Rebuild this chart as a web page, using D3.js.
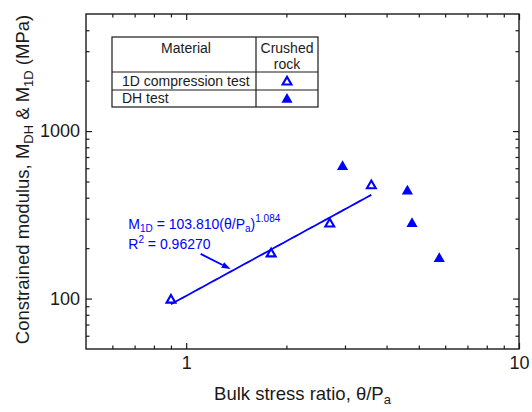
<!DOCTYPE html>
<html>
<head>
<meta charset="utf-8">
<script src="https://cdn.jsdelivr.net/npm/d3@7"></script>
<style>
  html, body { margin: 0; padding: 0; background: #fff; }
  svg { display: block; font-family: "Liberation Sans", Arial, sans-serif; }
</style>
</head>
<body>
<svg id="chart" width="532" height="412"></svg>
<script>
// Bulk stress ratio (θ/Pa) and constrained modulus (MPa)
const oedX = [0.9, 1.8, 2.7, 3.6];          // 1D compression test
const oedY = [98, 185, 279, 472];
const dhX = [2.95, 4.62, 4.77, 5.76];        // DH test
const dhY = [613, 437, 280, 173];

// power-law fit of the 1D compression data: M1D = a (θ/Pa)^b
const fitA = 103.810;
const fitB = 1.084;
const fitRange = [0.9, 3.6];
const fitR2 = "0.96270";

const xDomain = [0.5, 10];
const yDomain = [50, 5000];
const xMajor = [1, 10];
const xMinor = [0.6, 0.7, 0.8, 0.9, 2, 3, 4, 5, 6, 7, 8, 9];
const yMajor = [100, 1000];
const yMinor = [60, 70, 80, 90, 200, 300, 400, 500, 600, 700, 800, 900, 2000, 3000, 4000];

const legendRows = ["1D compression test", "DH test"];

const blue = "#0000ff";
const ink = "#1a1a1a";
const m = { left: 86, right: 519, top: 14, bottom: 349 };

const svg = d3.select("#chart");
const x = d3.scaleLog().domain(xDomain).range([m.left, m.right]);
const y = d3.scaleLog().domain(yDomain).range([m.bottom, m.top]);

const fmt = d => String(d);

function styleAxis(g) {
  g.select(".domain").remove();
  g.selectAll(".tick line").attr("stroke", ink).attr("stroke-width", 1.2);
  g.selectAll(".tick text").attr("fill", ink).style("font-size", "18px")
    .style("font-family", "\"Liberation Sans\", Arial, sans-serif");
}

// bottom axis
svg.append("g").attr("transform", `translate(0,${m.bottom})`)
  .call(d3.axisBottom(x).tickValues(xMajor).tickFormat(fmt).tickSize(-6).tickPadding(7))
  .call(styleAxis);
svg.append("g").attr("transform", `translate(0,${m.bottom})`)
  .call(d3.axisBottom(x).tickValues(xMinor).tickFormat("").tickSize(-3.5))
  .call(styleAxis);
// top axis (mirror)
svg.append("g").attr("transform", `translate(0,${m.top})`)
  .call(d3.axisTop(x).tickValues(xMajor).tickFormat("").tickSize(-6))
  .call(styleAxis);
svg.append("g").attr("transform", `translate(0,${m.top})`)
  .call(d3.axisTop(x).tickValues(xMinor).tickFormat("").tickSize(-3.5))
  .call(styleAxis);
// left axis
svg.append("g").attr("transform", `translate(${m.left},0)`)
  .call(d3.axisLeft(y).tickValues(yMajor).tickFormat(fmt).tickSize(-6).tickPadding(6))
  .call(styleAxis);
svg.append("g").attr("transform", `translate(${m.left},0)`)
  .call(d3.axisLeft(y).tickValues(yMinor).tickFormat("").tickSize(-3.5))
  .call(styleAxis);
// right axis (mirror)
svg.append("g").attr("transform", `translate(${m.right},0)`)
  .call(d3.axisRight(y).tickValues(yMajor).tickFormat("").tickSize(-6))
  .call(styleAxis);
svg.append("g").attr("transform", `translate(${m.right},0)`)
  .call(d3.axisRight(y).tickValues(yMinor).tickFormat("").tickSize(-3.5))
  .call(styleAxis);

// plot frame
svg.append("rect")
  .attr("x", m.left).attr("y", m.top)
  .attr("width", m.right - m.left).attr("height", m.bottom - m.top)
  .attr("fill", "none").attr("stroke", ink).attr("stroke-width", 1.4);

// axis titles
const xt = svg.append("text")
  .attr("x", (m.left + m.right) / 2).attr("y", 400)
  .attr("text-anchor", "middle").attr("fill", ink).style("font-size", "18.5px");
xt.append("tspan").text("Bulk stress ratio, θ/P");
xt.append("tspan").attr("dy", 4).style("font-size", "13px").text("a");

const yt = svg.append("text")
  .attr("transform", `translate(29,${(m.top + m.bottom) / 2 - 2}) rotate(-90)`)
  .attr("text-anchor", "middle").attr("fill", ink).style("font-size", "18.5px");
yt.append("tspan").text("Constrained modulus, M");
yt.append("tspan").attr("dy", 4).style("font-size", "13px").text("DH");
yt.append("tspan").attr("dy", -4).text(" & M");
yt.append("tspan").attr("dy", 4).style("font-size", "13px").text("1D");
yt.append("tspan").attr("dy", -4).text(" (MPa)");

// fitted power law
const fitPts = d3.range(0, 51).map(i => {
  const xv = fitRange[0] * Math.pow(fitRange[1] / fitRange[0], i / 50);
  return [xv, fitA * Math.pow(xv, fitB)];
});
svg.append("path")
  .attr("d", d3.line().x(d => x(d[0])).y(d => y(d[1]))(fitPts))
  .attr("fill", "none").attr("stroke", blue).attr("stroke-width", 1.8);

// markers
const openTri = d3.symbol().type(d3.symbolTriangle).size(34);
const fillTri = d3.symbol().type(d3.symbolTriangle).size(54);

svg.append("g").selectAll("path").data(oedX.map((v, i) => [v, oedY[i]])).join("path")
  .attr("transform", d => `translate(${x(d[0])},${y(d[1])})`)
  .attr("d", openTri).attr("fill", "none").attr("stroke", blue).attr("stroke-width", 2.1);

svg.append("g").selectAll("path").data(dhX.map((v, i) => [v, dhY[i]])).join("path")
  .attr("transform", d => `translate(${x(d[0])},${y(d[1])})`)
  .attr("d", fillTri).attr("fill", blue);

// equation annotation
const eq = svg.append("text")
  .attr("x", x(0.67)).attr("y", y(262))
  .attr("fill", blue).style("font-size", "14px");
eq.append("tspan").text("M");
eq.append("tspan").attr("dy", 3).style("font-size", "10px").text("1D");
eq.append("tspan").attr("dy", -3).text(` = ${fitA.toFixed(3)}(θ/P`);
eq.append("tspan").attr("dy", 3).style("font-size", "10px").text("a");
eq.append("tspan").attr("dy", -3).text(")");
eq.append("tspan").attr("dy", -7).style("font-size", "10px").text(fitB.toFixed(3));

const r2 = svg.append("text")
  .attr("x", x(0.67)).attr("y", y(197))
  .attr("fill", blue).style("font-size", "14px");
r2.append("tspan").text("R");
r2.append("tspan").attr("dy", -6).style("font-size", "10px").text("2");
r2.append("tspan").attr("dy", 6).text(` = ${fitR2}`);

// arrow pointing at the fit line
const a0 = [x(1.105), y(185)], a1 = [x(1.36), y(150)];
const ang = Math.atan2(a1[1] - a0[1], a1[0] - a0[0]);
const headLen = 9, headW = 3.2;
const base = [a1[0] - headLen * Math.cos(ang), a1[1] - headLen * Math.sin(ang)];
svg.append("line")
  .attr("x1", a0[0]).attr("y1", a0[1]).attr("x2", base[0]).attr("y2", base[1])
  .attr("stroke", blue).attr("stroke-width", 1.8);
svg.append("path")
  .attr("d", `M${a1[0]},${a1[1]}L${base[0] - headW * Math.sin(ang)},${base[1] + headW * Math.cos(ang)}L${base[0] + headW * Math.sin(ang)},${base[1] - headW * Math.cos(ang)}Z`)
  .attr("fill", blue);

// legend table
const lt = { x0: 112, x1: 256, x2: 318, y0: 37, y1: 72, y2: 90, y3: 107 };
const lg = svg.append("g").attr("fill", ink).style("font-size", "14px");
lg.append("rect").attr("x", lt.x0).attr("y", lt.y0)
  .attr("width", lt.x2 - lt.x0).attr("height", lt.y3 - lt.y0)
  .attr("fill", "#fff").attr("stroke", ink).attr("stroke-width", 1.2);
[[lt.x1, lt.y0, lt.x1, lt.y3], [lt.x0, lt.y1, lt.x2, lt.y1], [lt.x0, lt.y2, lt.x2, lt.y2]]
  .forEach(s => lg.append("line").attr("x1", s[0]).attr("y1", s[1]).attr("x2", s[2]).attr("y2", s[3])
    .attr("stroke", ink).attr("stroke-width", 1.2));
lg.append("text").attr("x", (lt.x0 + lt.x1) / 2 + 2).attr("y", 53).attr("text-anchor", "middle").text("Material");
lg.append("text").attr("x", (lt.x1 + lt.x2) / 2).attr("y", 53).attr("text-anchor", "middle").text("Crushed");
lg.append("text").attr("x", (lt.x1 + lt.x2) / 2).attr("y", 69).attr("text-anchor", "middle").text("rock");
lg.append("text").attr("x", 122).attr("y", 86).text(legendRows[0]);
lg.append("text").attr("x", 122).attr("y", 103).text(legendRows[1]);
const lx = (lt.x1 + lt.x2) / 2;
lg.append("path").attr("transform", `translate(${lx},${(lt.y1 + lt.y2) / 2 + 1})`)
  .attr("d", openTri).attr("fill", "none").attr("stroke", blue).attr("stroke-width", 2.1);
lg.append("path").attr("transform", `translate(${lx},${(lt.y2 + lt.y3) / 2 + 1})`)
  .attr("d", fillTri).attr("fill", blue);
</script>
</body>
</html>
